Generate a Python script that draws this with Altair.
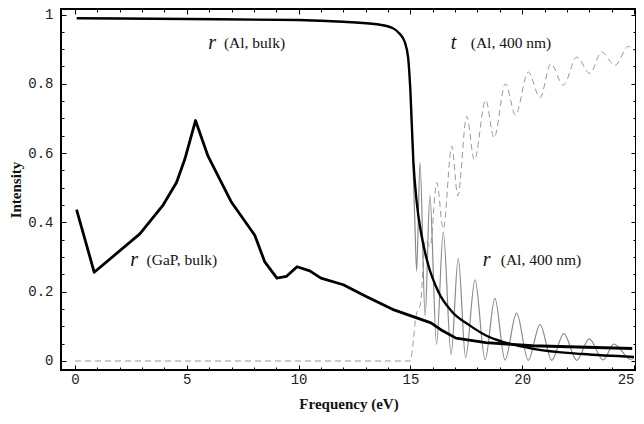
import altair as alt
import pandas as pd

# r (GaP, bulk)
gap_x = [0.07, 0.86, 2.9, 3.94, 4.54, 4.91, 5.39, 5.95, 7.0, 8.04, 8.48, 9.03, 9.45, 9.93,
         10.5, 11.0, 12.0, 13.0, 14.2, 15.25, 15.92, 16.44, 17.04, 18.37, 20.46, 24.92]
gap_y = [0.437, 0.256, 0.367, 0.45, 0.515, 0.582, 0.694, 0.591, 0.458, 0.363, 0.287, 0.239, 0.244, 0.272,
         0.26, 0.239, 0.22, 0.187, 0.149, 0.125, 0.11, 0.087, 0.066, 0.053, 0.044, 0.036]

# r (Al, bulk)
alb_x = [0.08, 5.0, 10.0, 12.0, 13.5, 14.2, 14.5, 14.75, 14.9, 15.0, 15.13, 15.28, 15.5, 15.8,
         16.25, 16.85, 17.6, 18.5, 19.0, 20.5, 22.7, 25.0]
alb_y = [0.989, 0.987, 0.984, 0.979, 0.972, 0.961, 0.946, 0.92, 0.875, 0.78, 0.58, 0.46, 0.362, 0.277,
         0.20, 0.143, 0.105, 0.07, 0.058, 0.035, 0.02, 0.012]

# r (Al, 400 nm)
r4_x = [0.08, 5.0, 10.0, 12.0, 13.5, 14.2, 14.5, 14.75, 14.9, 15.0, 15.1, 15.2, 15.28, 15.43,
        15.66, 15.87, 16.17, 16.47, 16.82, 17.14, 17.47, 17.89, 18.34, 18.78, 19.23, 19.75,
        20.27, 20.8, 21.32, 21.86, 22.44, 23.0, 23.62, 24.1, 24.85, 25.0]
r4_y = [0.989, 0.987, 0.984, 0.979, 0.972, 0.961, 0.946, 0.92, 0.875, 0.78, 0.6, 0.4, 0.26, 0.572,
        0.13, 0.477, 0.048, 0.372, 0.019, 0.296, 0.01, 0.234, 0.004, 0.181, 0.003, 0.138,
        0.002, 0.105, 0.002, 0.079, 0.002, 0.064, 0.003, 0.049, 0.005, 0.008]

# t (Al, 400 nm)
t4_x = [0.0, 15.0, 15.1, 15.25, 15.45, 15.68, 15.88, 16.18, 16.47, 16.85, 17.12, 17.52, 17.86,
        18.37, 18.74, 19.25, 19.7, 20.27, 20.8, 21.28, 21.84, 22.44, 23.03, 23.55, 24.15, 24.75, 25.0]
t4_y = [0.0, 0.0, 0.04, 0.13, 0.165, 0.35, 0.33, 0.515, 0.381, 0.62, 0.477, 0.706, 0.58,
        0.753, 0.644, 0.80, 0.71, 0.834, 0.76, 0.858, 0.796, 0.877, 0.83, 0.892, 0.853, 0.908, 0.895]

# annotations
sym_text = ["r", "t", "r", "r"]
sym_x = [6.13, 16.93, 2.64, 18.41]
sym_y = [0.918, 0.918, 0.291, 0.291]
lab_text = ["(Al, bulk)", "(Al, 400 nm)", "(GaP, bulk)", "(Al, 400 nm)"]
lab_x = [6.66, 17.70, 3.2, 19.04]
lab_y = [0.918, 0.918, 0.291, 0.291]

X_MAJOR = [0, 5, 10, 15, 20, 25]
X_MINOR = [0, 1, 2, 3, 4, 5, 6, 7, 8, 9, 10, 11, 12, 13, 14, 15, 16, 17, 18, 19, 20, 21, 22, 23, 24, 25]
Y_MAJOR = [0, 0.2, 0.4, 0.6, 0.8, 1.0]
Y_MINOR = [0, 0.05, 0.1, 0.15, 0.2, 0.25, 0.3, 0.35, 0.4, 0.45, 0.5, 0.55, 0.6, 0.65, 0.7,
           0.75, 0.8, 0.85, 0.9, 0.95, 1.0]

XDOM = [-0.626, 25.09]
YDOM = [-0.026, 1.0159]
xs = alt.Scale(domain=XDOM, nice=False, zero=False)
ys = alt.Scale(domain=YDOM, nice=False, zero=False)


def frame(xv, yv):
    return pd.DataFrame({"x": xv, "y": yv})


tick_common = dict(domain=False, grid=False, tickColor="black", tickWidth=1)

ax_bottom = alt.Axis(orient="bottom", values=X_MAJOR, tickSize=5, offset=-5, format="~g",
                     labelFont="Liberation Mono", labelFontSize=14, labelColor="#222", labelPadding=2,
                     labelFlush=5,
                     title="Frequency (eV)", titleFont="Liberation Serif", titleFontSize=15,
                     titleFontWeight="bold", titleColor="#111", titlePadding=10, **tick_common)
ax_left = alt.Axis(orient="left", values=Y_MAJOR, tickSize=5, offset=-5, format="~g",
                   labelFont="Liberation Mono", labelFontSize=14, labelColor="#222", labelPadding=8,
                   title="Intensity", titleFont="Liberation Serif", titleFontSize=15,
                   titleFontWeight="bold", titleColor="#111", titlePadding=4, **tick_common)
ax_bottom_minor = alt.Axis(orient="bottom", values=X_MINOR, tickSize=3, offset=-3, labels=False,
                           title="", **tick_common)
ax_left_minor = alt.Axis(orient="left", values=Y_MINOR, tickSize=3, offset=-3, labels=False,
                         title="", **tick_common)
ax_top = alt.Axis(orient="top", values=X_MAJOR, tickSize=5, offset=-5, labels=False, title="",
                  **tick_common)
ax_right = alt.Axis(orient="right", values=Y_MAJOR, tickSize=5, offset=-5, labels=False, title="",
                    **tick_common)
ax_top_minor = alt.Axis(orient="top", values=X_MINOR, tickSize=3, offset=-3, labels=False, title="",
                        **tick_common)
ax_right_minor = alt.Axis(orient="right", values=Y_MINOR, tickSize=3, offset=-3, labels=False,
                          title="", **tick_common)

t400 = alt.Chart(frame(t4_x, t4_y)).mark_line(
    interpolate="monotone", color="#999999", strokeWidth=1, strokeDash=[6, 4]
).encode(x=alt.X("x:Q", scale=xs, axis=ax_top_minor),
         y=alt.Y("y:Q", scale=ys, axis=ax_right_minor))

r400 = alt.Chart(frame(r4_x, r4_y)).mark_line(
    interpolate="monotone", color="#8a8a8a", strokeWidth=1.2
).encode(x=alt.X("x:Q", scale=xs, axis=ax_top),
         y=alt.Y("y:Q", scale=ys, axis=ax_right))

albulk = alt.Chart(frame(alb_x, alb_y)).mark_line(
    interpolate="monotone", color="black", strokeWidth=2.4
).encode(x=alt.X("x:Q", scale=xs, axis=ax_bottom_minor),
         y=alt.Y("y:Q", scale=ys, axis=ax_left_minor))

gap = alt.Chart(frame(gap_x, gap_y)).mark_line(
    color="black", strokeWidth=2.8, strokeJoin="round"
).encode(x=alt.X("x:Q", scale=xs, axis=ax_bottom),
         y=alt.Y("y:Q", scale=ys, axis=ax_left))

syms = alt.Chart(pd.DataFrame({"x": sym_x, "y": sym_y, "t": sym_text})).mark_text(
    font="Liberation Serif", fontStyle="italic", fontSize=20, align="center", baseline="middle",
    color="#111"
).encode(x=alt.X("x:Q", scale=xs, axis=None), y=alt.Y("y:Q", scale=ys, axis=None), text="t:N")

labs = alt.Chart(pd.DataFrame({"x": lab_x, "y": lab_y, "t": lab_text})).mark_text(
    font="Liberation Serif", fontSize=15.5, align="left", baseline="middle", color="#111"
).encode(x=alt.X("x:Q", scale=xs, axis=None), y=alt.Y("y:Q", scale=ys, axis=None), text="t:N")

chart = alt.layer(t400, r400, albulk, gap, syms, labs).resolve_axis(
    x="independent", y="independent"
).properties(
    width=575, height=361,
    padding={"left": 53, "top": 1, "right": 0, "bottom": 46},
    autosize=alt.AutoSizeParams(type="none"),
    background="white",
).configure_view(stroke="black", strokeWidth=2)

chart.save("out.html", embed_options={"renderer": "svg", "actions": False})
